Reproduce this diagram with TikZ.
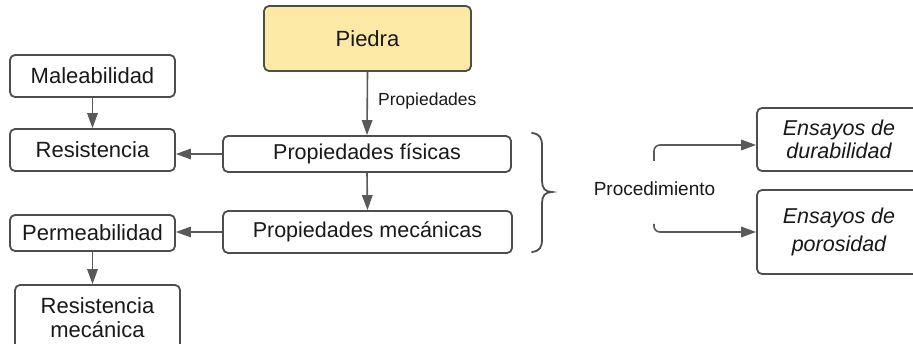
\documentclass[tikz,border=0pt]{standalone}
\usepackage{fontspec}
\setmainfont{Liberation Sans}
\usetikzlibrary{arrows.meta}
\definecolor{boxline}{RGB}{77,77,77}
\definecolor{arrline}{RGB}{89,89,89}
\definecolor{piedrafill}{RGB}{253,233,166}
\definecolor{txt}{RGB}{25,25,25}
\tikzset{
  box/.style={draw=boxline, line width=1.8pt, rounded corners=5pt, fill=white,
    inner sep=0pt, align=center, text=txt,
    font=\fontsize{22}{24}\selectfont},
  arr/.style={draw=arrline, line width=1.6pt, -{Triangle[length=15pt,width=10.5pt]}},
  lbl/.style={inner sep=0pt, text=txt}
}
\begin{document}
\begin{tikzpicture}[x=1pt,y=-1pt]
\useasboundingbox (0,0) rectangle (913,344);
\clip (0,0) rectangle (913,344);
\fill[white] (0,0) rectangle (913,344);
% nodes
\node[box, fill=piedrafill, minimum width=207pt, minimum height=65pt] (piedra) at (367.5,38.5) {Piedra};
\node[box, minimum width=165pt, minimum height=42pt] (male) at (92.5,76) {Maleabilidad};
\node[box, minimum width=165pt, minimum height=42pt] (resis) at (92.5,150) {Resistencia};
\node[box, minimum width=288pt, minimum height=36pt, font=\fontsize{21.5}{24}\selectfont] (pfis) at (367,154) {Propiedades físicas};
\node[box, minimum width=289pt, minimum height=42pt, font=\fontsize{21.5}{24}\selectfont] (pmec) at (367.5,232) {Propiedades mecánicas};
\node[box, minimum width=165pt, minimum height=36pt] (perm) at (92.5,233) {Permeabilidad};
\node[box, minimum width=165pt, minimum height=65pt] (resmec) at (97.5,317.5) {Resistencia\\mecánica};
\node[box, minimum width=164pt, minimum height=63pt, font=\fontsize{21.5}{22.5}\selectfont\itshape] (ens1) at (839,139.5) {Ensayos de\\durabilidad};
\node[box, minimum width=164pt, minimum height=84pt, font=\fontsize{21.5}{28}\selectfont\itshape] (ens2) at (839,232) {Ensayos de\\porosidad};
\node[lbl, anchor=west, font=\fontsize{17.5}{20}\selectfont] (lprop) at (378,101) {Propiedades};
\node[lbl, font=\fontsize{19}{22}\selectfont] (proc) at (654.5,189) {Procedimiento};
% connectors
\draw[arr] (piedra.south) -- (pfis.north);
\draw[arr] (pfis.south) -- (pmec.north);
\draw[arr] (male.south) -- (resis.north);
\draw[arr] (pfis.west) -- (pfis.west -| resis.east);
\draw[arr] (pmec.west) -- (pmec.west -| perm.east);
\draw[arr] (perm.south) -- (perm.south |- resmec.north);
% brace
\draw[draw=boxline, line width=1.8pt, line cap=round]
  (532,133) .. controls (540,134) and (542,138) .. (542,146)
  -- (542,181) .. controls (542,188) and (545,192) .. (552,192)
  .. controls (545,192) and (542,196) .. (542,203)
  -- (542,239) .. controls (542,247) and (540,251) .. (532,252);
% procedure connectors
\coordinate (u1) at (654,161);
\coordinate (d1) at (654,224);
\draw[arr, rounded corners=6pt] (u1) |- ([yshift=-5.5pt]ens1.west);
\draw[arr, rounded corners=6pt] (d1) |- (ens2.west);
\end{tikzpicture}
\end{document}
